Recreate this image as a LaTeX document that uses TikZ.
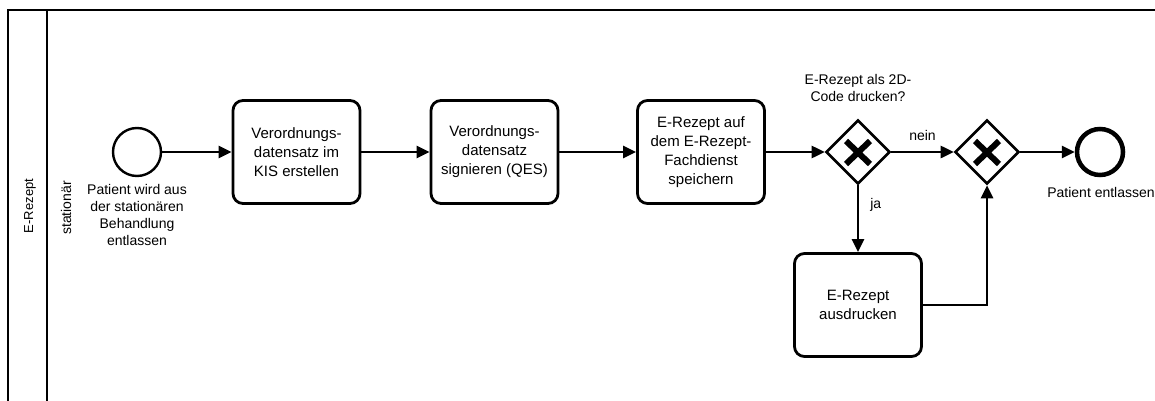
\documentclass[tikz,border=0pt]{standalone}
\usepackage{fontspec}
\setmainfont{Liberation Sans}
\usetikzlibrary{shapes.geometric,arrows.meta}
\begin{document}
\begin{tikzpicture}[x=1pt,y=-1pt,
  taskbox/.style={draw,line width=2.8pt,rounded corners=10pt,minimum width=127pt,
    minimum height=103pt,align=center,inner sep=0pt,
    font=\fontsize{15}{19}\selectfont},
  gatebox/.style={draw,diamond,line width=2.6pt,minimum width=64pt,minimum height=64pt,inner sep=0pt},
  startev/.style={draw,circle,line width=2.4pt,minimum size=48pt,inner sep=0pt},
  endev/.style={draw,circle,line width=4.5pt,minimum size=46pt,inner sep=0pt},
  lbl/.style={align=center,inner sep=0pt,font=\fontsize{14}{17}\selectfont},
  flow/.style={line width=2.6pt,-{Triangle[length=13pt,width=12pt]}},
  xmark/.style={line width=6pt}
]
\useasboundingbox (0,0) rectangle (1155,401);

% pool and lane frame
\draw[line width=2.4pt] (8,405) -- (8,10) -- (1160,10);
\draw[line width=2.4pt] (47,10) -- (47,405);
\node[rotate=90,inner sep=0pt,font=\fontsize{13}{15}\selectfont] (pool) at (30,206) {E-Rezept};
\node[rotate=90,inner sep=0pt,font=\fontsize{14}{17}\selectfont] (lane) at (66,208) {stationär};

% flow elements
\node[startev] (start) at (137,152) {};
\node[lbl,anchor=north] (startlbl) at (137,184) {Patient wird aus\\der stationären\\Behandlung\\entlassen};

\node[taskbox] (t1) at (296.5,152) {Verordnungs-\\datensatz im\\KIS erstellen};
\node[taskbox] (t2) at (494.5,152) {Verordnungs-\\datensatz\\signieren (QES)};
\node[taskbox] (t3) at (701,152) {E-Rezept auf\\dem E-Rezept-\\Fachdienst\\speichern};

\node[gatebox] (g1) at (858,152) {};
\draw[xmark] (846,141) -- (870,164) (870,141) -- (846,164);
\node[lbl] (q) at (858,88) {E-Rezept als 2D-\\Code drucken?};

\node[gatebox] (g2) at (987,152) {};
\draw[xmark] (975,141) -- (999,164) (999,141) -- (975,164);

\node[endev] (end) at (1100,152) {};
\node[lbl] (endlbl) at (1101,192) {Patient entlassen};

\node[taskbox] (t4) at (858,305) {E-Rezept\\ausdrucken};

% sequence flows
\draw[flow] (start) -- (t1);
\draw[flow] (t1) -- (t2);
\draw[flow] (t2) -- (t3);
\draw[flow] (t3) -- (g1.west);
\draw[flow] (g1.east) -- node[lbl,above=10pt] (nein) {nein} (g2.west);
\draw[flow] (g1.south) -- node[lbl,pos=0.3,right=11pt] (ja) {ja} (t4.north);
\draw[flow] (t4.east) -| (g2.south);
\draw[flow] (g2.east) -- (end);
\end{tikzpicture}
\end{document}
